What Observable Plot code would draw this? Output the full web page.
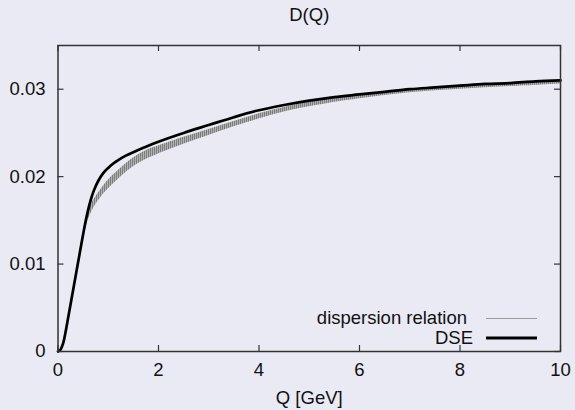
<!DOCTYPE html>
<html>
<head>
<meta charset="utf-8">
<script src="https://cdn.jsdelivr.net/npm/d3@7"></script>
<script src="https://cdn.jsdelivr.net/npm/@observablehq/plot@0.6"></script>
<style>
  html, body { margin: 0; padding: 0; background: #eaeaf5; }
</style>
</head>
<body>
<div id="chart"></div>
<script>
// DSE curve
const dseQ = [0, 0.05, 0.1, 0.15, 0.2, 0.3, 0.4, 0.5, 0.55, 0.6, 0.65, 0.7, 0.75, 0.8, 0.9, 1.0, 1.1, 1.2, 1.35, 1.5, 1.7, 2.0, 2.5, 3.0, 3.5, 4.0, 4.5, 5.0, 5.5, 6.0, 6.5, 7.0, 7.5, 8.0, 8.5, 9.0, 9.5, 10];
const dseD = [0, 0.0002, 0.0009, 0.0022, 0.0038, 0.0070, 0.0102, 0.0134, 0.0149, 0.0162, 0.0173, 0.0182, 0.0189, 0.0195, 0.0204, 0.0210, 0.0215, 0.0219, 0.0224, 0.0228, 0.0233, 0.0240, 0.0250, 0.0259, 0.0268, 0.0276, 0.0282, 0.0287, 0.0291, 0.0294, 0.0297, 0.0300, 0.0302, 0.0304, 0.0306, 0.0307, 0.0309, 0.0310];

// dispersion relation band (lower / upper)
const drQ  = [0, 0.1, 0.2, 0.3, 0.4, 0.5, 0.6, 0.7, 0.8, 0.9, 1.0, 1.2, 1.4, 1.6, 1.8, 2.0, 2.5, 3.0, 3.5, 4.0, 4.5, 5.0, 6.0, 7.0, 8.0, 9.0, 10];
const drLo = [0, 0.0008, 0.0036, 0.0067, 0.0098, 0.0128, 0.0150, 0.0163, 0.0172, 0.0180, 0.0186, 0.0197, 0.0207, 0.0215, 0.0221, 0.0226, 0.0237, 0.0247, 0.0257, 0.0266, 0.0274, 0.0280, 0.0289, 0.0296, 0.0300, 0.0303, 0.0306];
const drHi = [0, 0.0009, 0.0038, 0.0069, 0.0101, 0.0133, 0.0158, 0.0172, 0.0181, 0.0189, 0.0196, 0.0207, 0.0217, 0.0225, 0.0231, 0.0235, 0.0245, 0.0254, 0.0263, 0.0272, 0.0279, 0.0285, 0.0293, 0.0299, 0.0303, 0.0306, 0.0309];

const xTicks = [0, 2, 4, 6, 8, 10];
const xTickLabels = ["0", "2", "4", "6", "8", "10"];
const yTicks = [0, 0.01, 0.02, 0.03];
const yTickLabels = ["0", "0.01", "0.02", "0.03"];

const title = "D(Q)";
const xLabel = "Q [GeV]";
const legendLabels = ["dispersion relation", "DSE"];

const dse = dseQ.map((q, i) => ({q, d: dseD[i]}));
const band = drQ.map((q, i) => ({q, lo: drLo[i], hi: drHi[i]}));

const W = 575, H = 410;
const mL = 57.5, mR = 15, mT = 45, mB = 59;
const frameW = W - mL - mR, frameH = H - mT - mB;
const tickLen = 6;
const ink = "#333";

const plot = Plot.plot({
  width: W,
  height: H,
  marginLeft: mL,
  marginRight: mR,
  marginTop: mT,
  marginBottom: mB,
  style: {background: "#eaeaf5", fontFamily: "'Liberation Sans', Arial, Helvetica, sans-serif", fontSize: "18.5px", color: "#111"},
  x: {domain: [0, 10], axis: null},
  y: {domain: [0, 0.035], axis: null},
  marks: [
    Plot.areaY(band, {x: "q", y1: "lo", y2: "hi", fill: "url(#hatch)", curve: "catmull-rom"}),
    Plot.line(dse, {x: "q", y: "d", stroke: "#000", strokeWidth: 2.7, curve: "catmull-rom"}),
    Plot.frame({stroke: ink, strokeWidth: 1.5}),
    Plot.tickX(xTicks, {x: d => d, insetTop: frameH - tickLen, stroke: ink, strokeWidth: 1.2}),
    Plot.tickX(xTicks, {x: d => d, insetBottom: frameH - tickLen, stroke: ink, strokeWidth: 1.2}),
    Plot.tickY(yTicks, {y: d => d, insetRight: frameW - tickLen, stroke: ink, strokeWidth: 1.2}),
    Plot.tickY(yTicks, {y: d => d, insetLeft: frameW - tickLen, stroke: ink, strokeWidth: 1.2}),
    Plot.text(xTicks, {x: d => d, text: (d, i) => xTickLabels[i], frameAnchor: "bottom", lineAnchor: "middle", dy: 19, fill: "#111"}),
    Plot.text(yTicks, {y: d => d, text: (d, i) => yTickLabels[i], frameAnchor: "left", textAnchor: "end", lineAnchor: "middle", dx: -12.5, fill: "#111"}),
    Plot.text([title], {text: d => d, frameAnchor: "top", lineAnchor: "middle", dy: -30, fill: "#111"}),
    Plot.text([xLabel], {text: d => d, frameAnchor: "bottom", lineAnchor: "middle", dy: 47, fill: "#111"})
  ]
});

const svg = d3.select(plot);
svg.insert("defs", ":first-child").html(
  '<pattern id="hatch" width="2" height="4" patternUnits="userSpaceOnUse">' +
  '<rect width="2" height="4" fill="#b2b2b2"></rect>' +
  '<rect width="1" height="4" fill="#7c7c7c"></rect></pattern>'
);

// legend
const lg = svg.append("g")
  .attr("font-family", "'Liberation Sans', Arial, Helvetica, sans-serif")
  .attr("font-size", "18.5px");
const rows = [
  {label: legendLabels[0], tx: 467, y: 318.5, stroke: "#999", sw: 1.2},
  {label: legendLabels[1], tx: 473, y: 338, stroke: "#000", sw: 3}
];
rows.forEach(r => {
  lg.append("text").attr("x", r.tx).attr("y", r.y).attr("dy", "0.32em")
    .attr("text-anchor", "end").attr("fill", "#111").text(r.label);
  lg.append("line").attr("x1", 486).attr("x2", 537).attr("y1", r.y).attr("y2", r.y)
    .attr("stroke", r.stroke).attr("stroke-width", r.sw);
});

document.getElementById("chart").appendChild(plot);
</script>
</body>
</html>
